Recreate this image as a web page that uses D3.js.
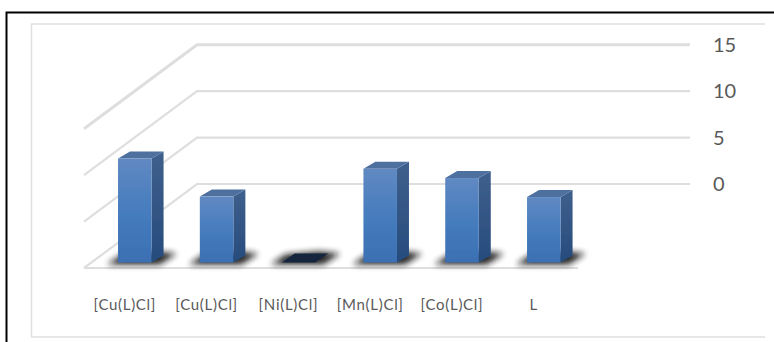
<!DOCTYPE html>
<html>
<head>
<meta charset="utf-8">
<script src="https://cdn.jsdelivr.net/npm/d3@7"></script>
<style>
html,body{margin:0;padding:0;background:#fff;}
svg{display:block;}
text{font-family:Lato,"Open Sans",sans-serif;fill:#595959;}
</style>
</head>
<body>
<svg id="chart" width="774" height="342"></svg>
<script>
// Chart content
const categories = ["[Cu(L)Cl]", "[Cu(L)Cl] ", "[Ni(L)Cl]", "[Mn(L)Cl]", "[Co(L)Cl]", "L"];
const values = [11.2, 7.1, 0, 10.1, 9.1, 7.05];
const tickValues = [0, 5, 10, 15];

const svg = d3.select("#chart");
const width = 774, height = 342;

// Oblique projection of the 3-D box: the back wall sits up and to the right of the floor front
const depthX = 113, depthY = -84;
const wallLeft = 197, wallRight = 690;
const y = d3.scaleLinear().domain([0, 15]).range([184, 44.8]);
const x = d3.scaleBand().domain(categories).range([84, 594.6]).paddingInner(0.59).paddingOuter(0.416);

// Bars stand part of the way into the depth of the floor
const barBaseY = 262.5;
const barDepthX = 12, barDepthY = -7;
const barHeight = v => y(0) - y(v);

const defs = svg.append("defs");
const addGradient = (id, stops) => {
  const g = defs.append("linearGradient").attr("id", id)
    .attr("x1", 0).attr("y1", 0).attr("x2", 0).attr("y2", 1);
  stops.forEach(([o, c]) => g.append("stop").attr("offset", o).attr("stop-color", c));
};
addGradient("front", [[0, "#6089c2"], [0.55, "#447bbd"], [1, "#3b70b3"]]);
addGradient("side", [[0, "#3f5f8c"], [1, "#264c7d"]]);
defs.append("filter").attr("id", "soft").attr("x", "-40%").attr("y", "-150%").attr("width", "180%").attr("height", "400%")
  .append("feGaussianBlur").attr("stdDeviation", 3.2);
defs.append("filter").attr("id", "edge").append("feGaussianBlur").attr("stdDeviation", 0.45);

// Outer frame, open on the right and bottom
svg.append("path").attr("d", `M${width},12.5H6.5V${height}`)
  .attr("fill", "none").attr("stroke", "#000").attr("stroke-width", 2);
// Chart area border, with no visible right edge
svg.append("path").attr("d", "M765,24H31.5V337H765")
  .attr("fill", "none").attr("stroke", "#e0e0e0").attr("stroke-width", 1.5);

// Gridlines: side wall segment plus back wall segment
svg.append("g").selectAll("path").data(tickValues).join("path")
  .attr("d", d => `M${wallLeft - depthX},${y(d) - depthY}L${wallLeft},${y(d)}H${wallRight}`)
  .attr("fill", "none").attr("stroke", "#dedede")
  .attr("stroke-width", d => d === 15 ? 3 : 2.2);

// Front edge of the floor
svg.append("path").attr("d", `M${wallLeft - depthX},${y(0) - depthY}H578`)
  .attr("fill", "none").attr("stroke", "#dedede").attr("stroke-width", 2.2);

// Value axis labels
svg.append("g").selectAll("text").data(tickValues).join("text")
  .attr("x", 713).attr("y", y).attr("dy", "0.36em")
  .attr("font-size", 20).text(d => d);

// Bars
const bars = svg.append("g").selectAll("g").data(categories.map((c, i) => ({c, v: values[i]}))).join("g")
  .attr("transform", d => `translate(${x(d.c)},${barBaseY})`);
const w = x.bandwidth();

// Cast shadow on the floor
bars.append("path")
  .attr("d", `M-11,2 L${w + 8},2 L${w + 25},-9 L${w + 4},-11 L4,-8Z`)
  .attr("fill", "#141414").attr("opacity", 0.95).attr("filter", "url(#soft)");

// Side face
bars.filter(d => d.v > 0).append("path")
  .attr("d", d => {
    const h = barHeight(d.v);
    return `M${w},0V${-h}L${w + barDepthX},${-h + barDepthY}V${barDepthY}Z`;
  }).attr("fill", "url(#side)").attr("filter", "url(#edge)");

// Top face
bars.filter(d => d.v > 0).append("path")
  .attr("d", d => {
    const h = barHeight(d.v);
    return `M0,${-h}H${w}L${w + barDepthX},${-h + barDepthY}H${barDepthX}Z`;
  }).attr("fill", "#4d6f9f").attr("filter", "url(#edge)");

// Front face
bars.filter(d => d.v > 0).append("rect")
  .attr("x", 0).attr("y", d => -barHeight(d.v)).attr("width", w).attr("height", d => barHeight(d.v))
  .attr("fill", "url(#front)").attr("filter", "url(#edge)");

// A zero-height bar shows only as a flat dark tile
bars.filter(d => d.v === 0).append("path")
  .attr("d", `M0,0H${w}L${w + 13},-9H13Z`)
  .attr("fill", "#15253d");

// Category labels sit left of the bar centres
svg.append("g").selectAll("text").data(categories).join("text")
  .attr("x", d => x(d) + w / 2 - 10)
  .attr("y", 305).attr("dy", "0.36em").attr("text-anchor", "middle")
  .attr("font-size", 15).attr("letter-spacing", 0.7).text(d => d);
</script>
</body>
</html>
